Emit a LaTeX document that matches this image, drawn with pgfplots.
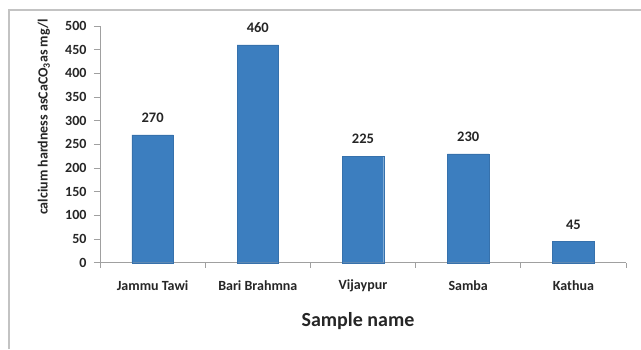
\documentclass[border=0pt]{standalone}
\usepackage{fontspec}
\setmainfont{Carlito}
\usepackage{pgfplots}
\pgfplotsset{compat=1.18}
\definecolor{barblue}{RGB}{60,126,191}
\definecolor{axgray}{RGB}{160,160,160}
\definecolor{framegray}{RGB}{195,195,195}
\begin{document}
\begin{tikzpicture}[x=1pt,y=1pt]
\useasboundingbox (0,0) rectangle (641,349);
\fill[white] (0,0) rectangle (641,349);
\draw[framegray,line width=1.5pt] (9,0) -- (9,339) -- (641,339);
\begin{axis}[
  at={(100pt,86.3pt)}, anchor=south west,
  scale only axis, width=526pt, height=236.7pt,
  xmin=-0.5, xmax=4.5, ymin=0, ymax=500,
  axis lines*=left,
  axis line style={axgray, line width=0.8pt},
  ytick={0,50,...,500},
  xtick={0,1,2,3,4},
  xticklabels={Jammu Tawi,Bari Brahmna,Vijaypur,Samba,Kathua},
  minor xtick={-0.5,0.5,1.5,2.5,3.5,4.5},
  major x tick style={draw=none},
  minor x tick style={axgray, line width=0.8pt},
  y tick style={axgray, line width=0.8pt},
  tick align=outside,
  major tick length=6pt, minor tick length=5pt,
  tick label style={font=\fontsize{14}{16}\selectfont\bfseries, text=black!85},
  xticklabel style={anchor=center, yshift=-17pt},
  yticklabel style={xshift=-4pt},
  /pgf/number format/assume math mode=true,
  ybar, bar width=41.5pt,
  nodes near coords,
  every node near coord/.append style={font=\fontsize{14.5}{16}\selectfont\bfseries, text=black!85, anchor=center, yshift=17pt},
  clip=false,
]
\addplot[fill=barblue, draw=barblue!90!black, line width=0.3pt] coordinates {(0,270) (1,460) (2,225) (3,230) (4,45)};
\end{axis}
\node[rotate=90, font=\fontsize{14}{16}\selectfont\bfseries, text=black!85] at (44,232) {calcium hardness asCaCO\textsubscript{3}as mg/l};
\node[anchor=base, font=\fontsize{20}{22}\selectfont\bfseries, text=black!85] at (358,22.3) {Sample name};
\end{tikzpicture}
\end{document}
